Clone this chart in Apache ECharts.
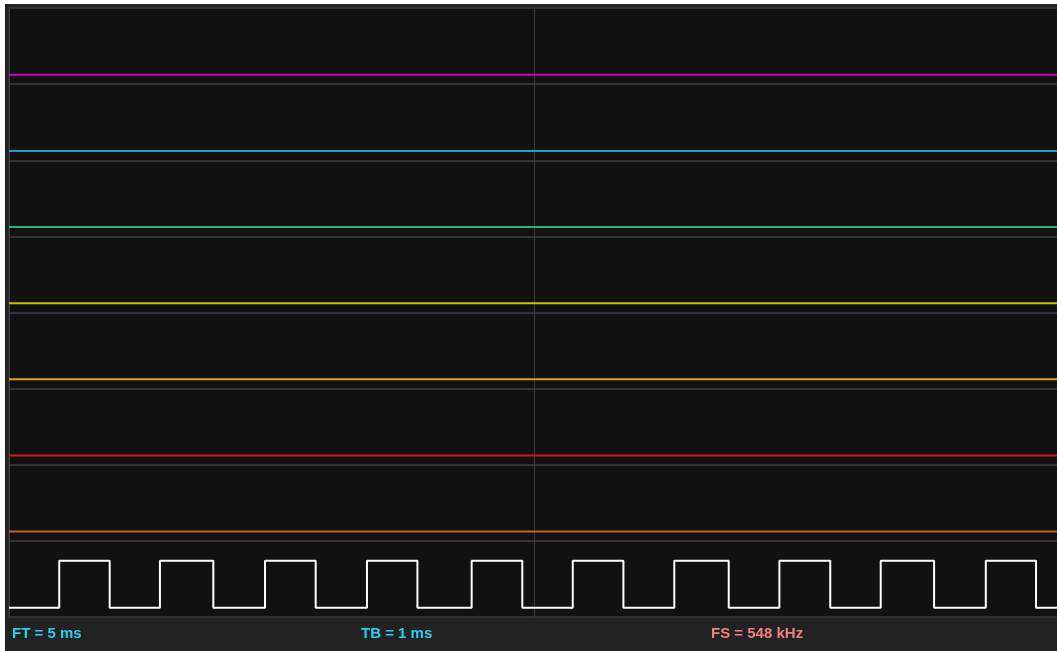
<!DOCTYPE html>
<html>
<head>
<meta charset="utf-8">
<script src="https://cdn.jsdelivr.net/npm/echarts@6/dist/echarts.min.js"></script>
<style>
html,body{margin:0;padding:0;background:#fff;overflow:hidden;}
#chart{position:absolute;left:5px;top:4px;width:1056px;height:647px;background:#222;}
</style>
</head>
<body>
<div id="chart"></div>
<script>
// Time window in microseconds (FT = 5 ms)
const timeRange = [0, 5000];
// Channels from top to bottom
const channelNames = ['CH7', 'CH6', 'CH5', 'CH4', 'CH3', 'CH2', 'CH1', 'CH0'];
const channelColors = ['#cc00cc', '#1ea0c8', '#22b873', '#c8c000', '#e0a020', '#d81818', '#b8642a', '#ffffff'];
// Constant-level channels (logic level 0 over whole window)
const flatLevels = [0, 0, 0, 0, 0, 0, 0];
// Square wave on CH0: rising and falling edge times (µs)
const risingEdges = [239, 718, 1218, 1703, 2201, 2682, 3165, 3665, 4147, 4647];
const fallingEdges = [479, 972, 1459, 1943, 2442, 2923, 3424, 3907, 4401, 4886];
// Status bar texts
const statusTexts = ['FT = 5 ms', 'TB = 1 ms', 'FS = 548 kHz'];

const LOW = 0.123, HIGH = 0.74, N = channelNames.length;

function levelY(rowFromTop, bit) {
  return (N - 1 - rowFromTop) + (bit ? HIGH : LOW);
}

const series = [];
flatLevels.forEach((lv, i) => {
  series.push({
    name: channelNames[i],
    type: 'line',
    symbol: 'none',
    silent: true,
    lineStyle: { color: channelColors[i], width: 2 },
    data: [[timeRange[0], levelY(i, lv)], [timeRange[1], levelY(i, lv)]]
  });
});

// build square wave points from edges
const sq = [];
const edges = [];
risingEdges.forEach(t => edges.push([t, 1]));
fallingEdges.forEach(t => edges.push([t, 0]));
edges.sort((a, b) => a[0] - b[0]);
let cur = 0;
sq.push([timeRange[0], levelY(N - 1, cur)]);
edges.forEach(([t, b]) => {
  sq.push([t, levelY(N - 1, cur)]);
  sq.push([t, levelY(N - 1, b)]);
  cur = b;
});
sq.push([timeRange[1], levelY(N - 1, cur)]);
series.push({
  name: channelNames[N - 1],
  type: 'line',
  symbol: 'none',
  silent: true,
  lineStyle: { color: channelColors[N - 1], width: 2 },
  data: sq
});

const FONT = 'bold 15px "Liberation Sans", Arial, sans-serif';
const chart = echarts.init(document.getElementById('chart'));
chart.setOption({
  animation: false,
  backgroundColor: '#222',
  grid: {
    left: 4, top: 4, right: 1, bottom: 34,
    show: true, backgroundColor: '#111', borderColor: '#2e2e2e', borderWidth: 2
  },
  xAxis: {
    type: 'value', min: timeRange[0], max: timeRange[1], interval: 2500,
    axisLine: { show: false }, axisTick: { show: false }, axisLabel: { show: false },
    splitLine: { show: true, lineStyle: { color: '#3c3c3c', width: 1 } }
  },
  yAxis: {
    type: 'value', min: 0, max: N, interval: 1,
    axisLine: { show: false }, axisTick: { show: false }, axisLabel: { show: false },
    splitLine: { show: true, lineStyle: { color: '#333', width: 2 } }
  },
  graphic: [
    { type: 'text', left: 7, top: 622, style: { text: statusTexts[0], fill: '#2ad0ee', font: FONT } },
    { type: 'text', left: 356, top: 622, style: { text: statusTexts[1], fill: '#2ad0ee', font: FONT } },
    { type: 'text', left: 706, top: 622, style: { text: statusTexts[2], fill: '#f08080', font: FONT } }
  ],
  series: series
});
</script>
</body>
</html>
